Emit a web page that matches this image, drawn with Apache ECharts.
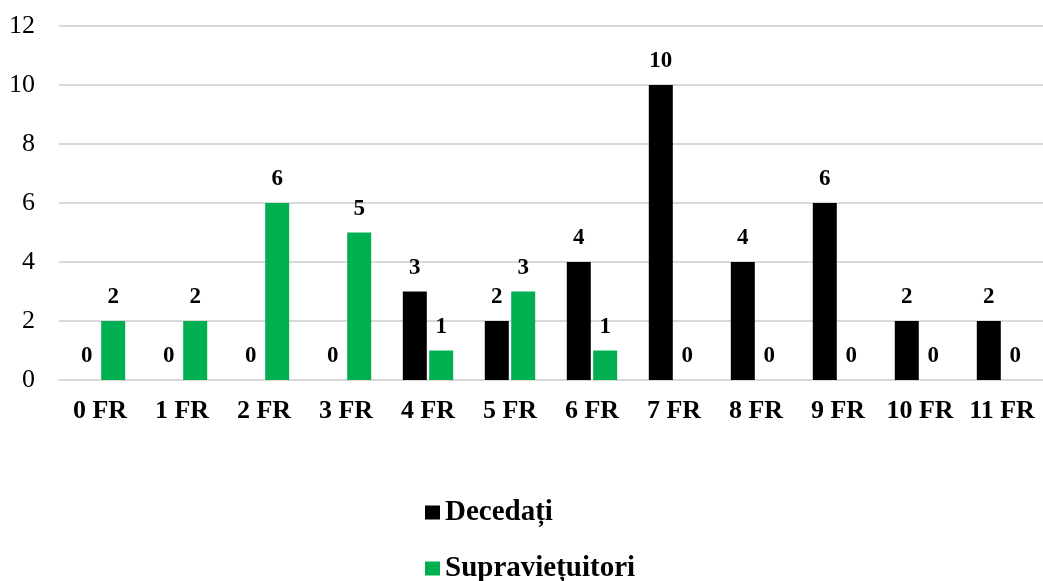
<!DOCTYPE html>
<html>
<head>
<meta charset="utf-8">
<script src="https://cdn.jsdelivr.net/npm/echarts@6/dist/echarts.min.js"></script>
<style>
  html, body { margin: 0; padding: 0; background: #fff; }
  #chart { width: 1043px; height: 581px; }
</style>
</head>
<body>
<div id="chart"></div>
<script>
// Categories and counts per group
const categories = ['0 FR', '1 FR', '2 FR', '3 FR', '4 FR', '5 FR', '6 FR', '7 FR', '8 FR', '9 FR', '10 FR', '11 FR'];
const decedati = [0, 0, 0, 0, 3, 2, 4, 10, 4, 6, 2, 2];
const supravietuitori = [2, 2, 6, 5, 1, 3, 1, 0, 0, 0, 0, 0];
const seriesNames = ['Decedați', 'Supraviețuitori'];

const serif = '"Liberation Serif", "Times New Roman", serif';

const chart = echarts.init(document.getElementById('chart'));

const labelStyle = {
  show: true,
  position: 'top',
  distance: 12,
  fontFamily: serif,
  fontWeight: 'bold',
  fontSize: 23,
  color: '#000'
};

// One legend block per series, stacked vertically under the plot
const legendBase = {
  left: 420,
  itemWidth: 15,
  itemHeight: 14,
  itemGap: 6,
  icon: 'rect',
  textStyle: { fontFamily: serif, fontWeight: 'bold', fontSize: 29, color: '#000' }
};

chart.setOption({
  animation: false,
  backgroundColor: '#fff',
  grid: { left: 59, right: 0, top: 26, bottom: 201, containLabel: false },
  legend: [
    Object.assign({}, legendBase, { top: 493, data: [seriesNames[0]] }),
    Object.assign({}, legendBase, { top: 549, data: [seriesNames[1]] })
  ],
  xAxis: {
    type: 'category',
    data: categories,
    axisLine: { show: true, lineStyle: { color: '#d9d9d9', width: 2 } },
    axisTick: { show: false },
    axisLabel: {
      interval: 0,
      hideOverlap: false,
      fontFamily: serif,
      fontWeight: 'bold',
      fontSize: 26,
      color: '#000',
      margin: 18
    }
  },
  yAxis: {
    type: 'value',
    min: 0,
    max: 12,
    interval: 2,
    axisLine: { show: false },
    axisTick: { show: false },
    axisLabel: { fontFamily: serif, fontSize: 26, color: '#000', margin: 24 },
    splitLine: { lineStyle: { color: '#d9d9d9', width: 2 } }
  },
  series: [
    {
      name: seriesNames[0],
      type: 'bar',
      data: decedati,
      barWidth: 24,
      barGap: '10%',
      itemStyle: { color: '#000000' },
      label: labelStyle
    },
    {
      name: seriesNames[1],
      type: 'bar',
      data: supravietuitori,
      barWidth: 24,
      barGap: '10%',
      itemStyle: { color: '#00b050' },
      label: labelStyle
    }
  ]
});
</script>
</body>
</html>
